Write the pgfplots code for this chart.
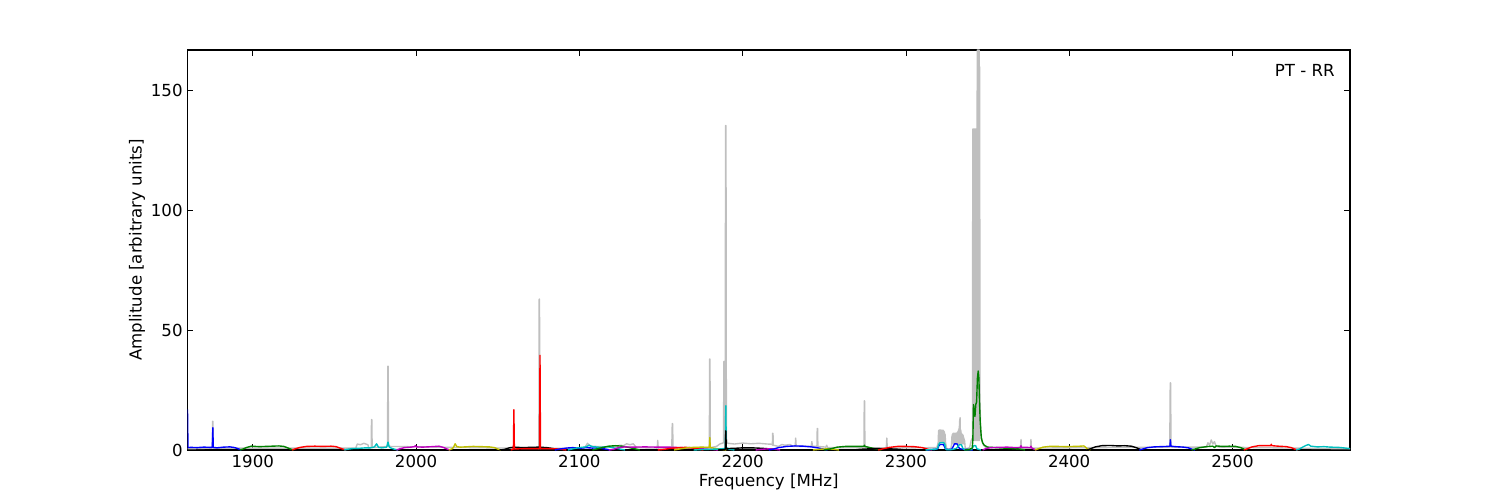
\documentclass[border=0pt]{standalone}
\usepackage{fontspec}
\setmainfont{DejaVu Sans}
\usepackage{pgfplots}
\pgfplotsset{compat=1.18}
\definecolor{mb}{rgb}{0,0,1}
\definecolor{mg}{rgb}{0,0.5,0}
\definecolor{mr}{rgb}{1,0,0}
\definecolor{mc}{rgb}{0,0.75,0.75}
\definecolor{mm}{rgb}{0.75,0,0.75}
\definecolor{my}{rgb}{0.75,0.75,0}
\definecolor{mk}{rgb}{0,0,0}
\definecolor{gr}{rgb}{0.75,0.75,0.75}
\begin{document}
\begin{tikzpicture}
\useasboundingbox (0,0) rectangle (15in,5in);
\begin{axis}[
  at={(1.875in,0.5in)}, anchor=south west,
  width=11.625in, height=4in, scale only axis,
  xmin=1860, xmax=2572, ymin=0, ymax=167,
  xtick={1900,2000,2100,2200,2300,2400,2500},
  ytick={0,50,100,150},
  minor tick num=0,
  tick align=inside, tick pos=both,
  major tick length=4pt,
  every tick/.style={black, line width=0.5pt},
  axis line style={line width=1pt},
  /pgf/number format/assume math mode=true,
  /pgf/number format/set thousands separator={},
  tick label style={font=\fontsize{12}{14}\selectfont},
  label style={font=\fontsize{12}{14}\selectfont},
  xlabel={Frequency [MHz]}, ylabel={Amplitude [arbitrary units]},
  xlabel style={at={(axis description cs:0.5,-0.079)}, anchor=center},
  ylabel style={at={(axis description cs:-0.0434,0.5)}, anchor=center},
  every axis plot/.append style={line width=1pt, line join=round, mark=none},
]
% gray full spectrum
\addplot[gr] coordinates {
(1860,0.5)(1875.2,0.8)(1875.4,12)(1875.6,12)(1875.8,0.8)
(1963,0.8)(1964,2.5)(1966,2.2)(1968,2.8)(1970.5,2.2)(1971,0.8)
(1972.5,1)(1972.7,12.7)(1972.9,12.7)(1973.1,1)
(1982.5,1.5)(1982.7,35)(1982.9,35)(1983.1,1.5)
(2075.2,0.6)(2075.4,63)(2075.6,63)(2075.8,0.6)
(2103,0.8)(2105,2.8)(2107,1.5)(2110,1.5)
(2120,1.2)(2125,2)(2127,1.8)(2129,2.6)(2131,2.2)(2133,2.6)(2135,1.0)
(2147.7,0.8)(2148,4)(2148.3,0.8)
(2156.6,1)(2156.9,11)(2157.1,11)(2157.4,1)
(2179.6,1)(2179.8,38)(2180.0,38)(2180.2,1)
(2184,1.5)(2186,2.5)(2188.3,3)(2188.5,37)(2188.7,37)(2188.9,4)(2189.3,5)(2189.55,135.5)(2189.8,135.5)(2190.05,5)(2190.5,3)
(2191,2.8)(2195,2.5)(2200,2.9)(2205,2.6)(2210,2.8)(2215,2.5)(2218,2.4)
(2218.2,2)(2218.4,7)(2218.6,7)(2218.8,2)
(2222,1.5)(2224,2.3)(2226,2)(2229,2.3)(2231,1.5)
(2232.2,1.5)(2232.5,5)(2232.8,1.5)
(2242,1.5)(2242.4,3.5)(2242.8,1.5)(2245.5,1.5)(2245.7,9)(2245.9,9)(2246.1,1.5)
(2251,1.2)(2251.5,2)(2252,1.0)
(2274.3,1)(2274.5,20.5)(2274.7,20.5)(2274.9,1)
(2288,0.8)(2288.3,5)(2288.6,0.8)
(2319,1)(2319.8,3.2)
(2320.0,8.0)(2320.1,3.2)(2320.2,8.3)(2320.3,3.2)(2320.4,8.3)(2320.5,3.2)(2320.6,8.3)(2320.7,3.2)(2320.8,8.3)(2320.9,3.2)
(2321.0,8.3)(2321.1,3.2)(2321.2,8.3)(2321.3,3.2)(2321.4,8.3)(2321.5,3.2)(2321.6,8.0)(2321.7,3.2)(2321.8,8.0)(2321.9,3.2)
(2322.0,8.3)(2322.1,3.2)(2322.2,8.3)(2322.3,3.2)(2322.4,8.0)(2322.5,3.2)(2322.6,8.0)(2322.7,3.2)(2322.8,8.3)(2322.9,3.2)
(2323.0,8.0)(2323.1,3.2)(2323.2,8.0)(2323.3,3.2)(2323.4,7.8)(2323.5,3.2)(2323.6,7.5)(2323.7,3.2)(2323.8,7.0)(2323.9,3.2)(2324.0,6.5)
(2324.3,3)(2325,0.5)
(2327.5,0.5)(2328,2.6)
(2328.1,5.5)(2328.2,2.6)(2328.3,6.0)(2328.4,2.6)(2328.5,6.5)(2328.6,2.6)(2328.7,6.8)(2328.8,2.6)(2328.9,7.0)(2329.0,2.6)
(2329.1,7.0)(2329.2,2.6)(2329.3,7.0)(2329.4,2.6)(2329.5,7.0)(2329.6,2.6)(2329.7,6.8)(2329.8,2.6)(2329.9,6.6)(2330.0,2.6)
(2330.1,7.0)(2330.2,2.6)(2330.3,7.0)(2330.4,2.6)(2330.5,7.0)(2330.6,2.6)(2330.7,7.0)(2330.8,2.6)(2330.9,6.8)(2331.0,2.6)
(2331.1,7.0)(2331.2,2.6)(2331.3,7.2)(2331.4,2.6)(2331.5,7.4)(2331.6,2.6)(2331.7,7.5)(2331.8,2.6)(2331.9,7.8)(2332.0,2.6)
(2332.1,8.0)(2332.2,2.6)(2332.3,8.5)(2332.4,2.6)(2332.5,9.0)(2332.6,2.6)(2332.7,10.0)(2332.8,2.6)(2332.9,12.0)(2333.0,12.5)(2333.2,13.5)(2333.35,2.6)
(2333.5,8.5)(2333.6,2.6)(2333.7,8.0)(2333.8,2.6)(2333.9,7.2)(2334.0,2.6)(2334.1,6.8)(2334.2,2.6)(2334.3,6.5)(2334.4,2.6)
(2334.5,6.5)(2334.6,2.6)(2334.7,6.5)(2334.8,2.6)(2334.9,6.2)(2335.0,2.6)(2335.1,6.0)(2335.2,2.6)(2335.3,5.5)(2335.4,2.6)
(2335.5,5.0)(2335.6,2.6)(2335.7,4.5)(2335.8,2.6)(2335.9,4.0)(2336.0,3.5)
(2336.3,1)(2337,0.5)
(2339,1)(2340,4)(2340.8,5)
(2340.95,134)(2341.05,4)(2341.15,134)(2341.25,4)(2341.35,134)(2341.45,4)(2341.55,134)(2341.65,4)(2341.75,134)(2341.85,4)
(2341.95,134)(2342.05,4)(2342.15,134)(2342.25,4)(2342.35,134)(2342.45,4)(2342.55,134)(2342.65,4)(2342.75,134)(2342.85,4)
(2342.95,134)(2343.05,4)(2343.15,134)(2343.25,4)(2343.35,134)(2343.45,4)(2343.55,150)(2343.65,4)
(2343.75,167)(2343.85,4)(2343.95,167)(2344.05,4)(2344.15,167)(2344.25,4)(2344.35,167)(2344.45,4)(2344.55,167)(2344.65,4)
(2344.75,167)(2344.85,4)(2344.95,167)(2345.05,4)(2345.15,160)
(2345.4,20)(2345.8,8)(2346.5,4)(2347.5,2)(2349,1)
(2370.2,0.8)(2370.5,4.4)(2370.8,0.8)
(2376.3,0.8)(2376.6,4.4)(2376.9,0.8)
(2461.6,1.2)(2461.9,28)(2462.1,28)(2462.4,1.2)
(2484,1.2)(2485,3)(2486,2)(2487,4.2)(2488,2.5)(2489,3.5)(2490,1.5)(2492,1.2)
(2572,0.5)
};
% bands
\addplot[mb] coordinates {(1860,17)(1860.3,1)(1862,1.1)(1866,1.0)(1870,1.2)(1874,1.1)(1875.2,1.1)(1875.5,9.3)(1875.8,1.1)(1878,0.9)(1882,1.2)(1886,1.3)(1889,1.0)(1891,0.5)(1893,0)};
\addplot[mg] coordinates {(1892,0)(1894,0.4)(1896,1.0)(1899,1.6)(1904,1.4)(1908,1.5)(1912,1.6)(1916,1.7)(1919,1.5)(1921,1.0)(1923,0.4)(1925,0)};
\addplot[mr] coordinates {(1924,0)(1926,0.5)(1929,1.1)(1933,1.5)(1938,1.6)(1943,1.5)(1948,1.6)(1951,1.4)(1953,0.9)(1955,0.4)(1957,0)};
\addplot[mc] coordinates {(1956,0)(1958,0.3)(1961,0.6)(1965,0.7)(1969,0.9)(1972,0.9)(1974.5,1.3)(1975.8,2.6)(1977,1.1)(1979,0.9)(1982,1.2)(1982.8,3.3)(1983.6,1.2)(1985,0.7)(1987,0.3)(1989,0)};
\addplot[mm] coordinates {(1988,0)(1990,0.5)(1993,1.0)(1997,1.2)(1999,1.4)(1999.6,1.8)(2000.3,1.3)(2004,1.2)(2010,1.4)(2014,1.6)(2017,1.0)(2019,0.4)(2021,0)};
\addplot[my] coordinates {(2020,0)(2022,0.5)(2023,1.2)(2023.9,2.6)(2025,1.4)(2027,1.2)(2030,1.3)(2035,1.5)(2040,1.4)(2045,1.3)(2048,1.0)(2050,0.4)(2052,0)};
\addplot[mk] coordinates {(2051,0)(2054,0.2)(2057,0.9)(2060,1.2)(2065,1.0)(2070,1.1)(2075,1.2)(2080,1.0)(2084,0.6)(2087,0.2)(2089,0)};
\addplot[mr] coordinates {(2058,0)(2059.6,0.4)(2059.9,16.8)(2060.2,0.4)(2063,0.5)(2068,0.6)(2073,0.6)(2075.6,0.6)(2075.9,39.5)(2076.2,0.6)(2080,0.6)(2085,0.5)(2089,0.3)(2092,0)};
\addplot[mb] coordinates {(2085,0)(2088,0.4)(2092,0.8)(2096,1.0)(2100,0.7)(2104,1.0)(2108,0.8)(2112,0.9)(2116,0.4)(2119,0)};
\addplot[mc] coordinates {(2093,0)(2096,0.5)(2100,1.0)(2104,1.3)(2106,2.0)(2108,1.4)(2113,1.1)(2117,1.4)(2121,0.9)(2125,0.4)(2128,0)};
\addplot[mg] coordinates {(2108,0)(2111,0.5)(2114,1.0)(2118,1.6)(2122,1.8)(2126,1.6)(2130,1.1)(2134,0.5)(2137,0)};
\addplot[mm] coordinates {(2118,0)(2121,0.3)(2124,1.0)(2128,1.3)(2133,1.2)(2140,1.3)(2148,1.2)(2155,1.2)(2162,1.0)(2170,0.8)(2177,0.4)(2182,0.2)(2185,0)};
\addplot[mr] coordinates {(2148,0)(2152,0.3)(2156,0.7)(2160,0.9)(2165,1.1)(2169,0.9)(2173,0.4)(2176,0)};
\addplot[my] coordinates {(2158,0)(2162,0.5)(2166,0.9)(2170,1.1)(2175,1.2)(2179.6,1.1)(2179.9,5.2)(2180.2,1.0)(2184,0.6)(2188,0.2)(2190,0)};
\addplot[mc] coordinates {(2170,0)(2175,0.2)(2180,0.3)(2185,0.4)(2188.8,0.6)(2189.4,0.9)(2189.7,18.5)(2190.0,1)(2192,0.3)(2195,0)};
\addplot[mk] coordinates {(2185,0)(2189.3,0.2)(2189.7,8)(2190.0,0.6)(2195,0.7)(2200,0.9)(2206,0.9)(2212,0.7)(2218,0.4)(2222,0)};
\addplot[mm] coordinates {(2208,0)(2212,0.3)(2216,0.5)(2220,0.3)(2223,0)};
\addplot[mb] coordinates {(2216,0)(2219,0.4)(2222,1.0)(2227,1.5)(2232,1.7)(2237,1.6)(2242,1.3)(2246,0.9)(2250,0.3)(2252,0)};
\addplot[my] coordinates {(2243,0)(2247,0.3)(2252,0.5)(2256,0.3)(2259,0)};
\addplot[mg] coordinates {(2250,0)(2254,0.5)(2258,1.2)(2263,1.5)(2268,1.5)(2273,1.5)(2274.3,1.6)(2274.6,2.0)(2274.9,1.5)(2278,1.0)(2282,0.4)(2285,0)};
\addplot[mk] coordinates {(2268,0)(2272,0.3)(2278,0.5)(2284,0.6)(2290,0.5)(2296,0.3)(2300,0)};
\addplot[mr] coordinates {(2283,0)(2286,0.5)(2290,1.1)(2295,1.5)(2300,1.5)(2305,1.4)(2310,1.0)(2313,0.4)(2316,0)};
\addplot[mb] coordinates {(2313,0)(2316,0.2)(2318,0.3)(2319.5,0.5)(2320.2,1.8)(2321,2.3)(2322.8,2.3)(2323.6,1.5)(2324.2,0.4)(2326,0.2)(2328,0.3)(2329,1.5)(2329.8,2.6)(2331.5,2.5)(2332.3,1.2)(2333,0.5)(2336,0.3)(2339,0.2)(2341,0)};
\addplot[mc] coordinates {(2312,0)(2315,0.2)(2318,0.3)(2319.4,0.6)(2320,2.2)(2320.8,3.0)(2323,3.1)(2323.8,2.5)(2324.3,0.5)(2325,0.1)(2327,0.1)(2329,0.3)(2331,0.7)(2332,1.6)(2332.8,2.2)(2334,2.2)(2334.8,0.8)(2336,0.1)(2340,0.1)(2340.8,0.8)(2341.5,1.8)(2342.7,1.8)(2343.5,0.5)(2346,0)};
\addplot[mg] coordinates {(2336,0)(2339,0.3)(2340.6,0.8)(2341.0,4)(2341.4,19)(2341.8,16)(2342.3,14)(2342.8,19)(2343.3,20)(2343.8,30)(2344.3,33)(2344.7,30)(2345.1,20)(2345.5,12)(2346.2,5)(2347,3)(2348,2)(2350,1.2)(2355,1.0)(2360,0.8)(2365,0.6)(2370,0.4)(2373,0)};
\addplot[mm] coordinates {(2347,0)(2349,0.6)(2352,1.0)(2357,1.1)(2362,1.2)(2367,1.0)(2370.3,1.1)(2370.5,1.8)(2370.7,1.1)(2374,1.1)(2376.4,1.0)(2376.6,1.6)(2376.8,1.0)(2378,0.5)(2380,0)};
\addplot[my] coordinates {(2379,0)(2381,0.5)(2384,1.2)(2388,1.5)(2393,1.5)(2398,1.4)(2403,1.5)(2407,1.6)(2409,1.7)(2410,1.2)(2411,0.5)(2413,0)};
\addplot[mk] coordinates {(2411,0)(2413,0.5)(2416,1.3)(2420,1.8)(2425,1.9)(2430,1.7)(2434,1.8)(2438,1.6)(2441,1.0)(2443,0.4)(2445,0)};
\addplot[mb] coordinates {(2443,0)(2445,0.4)(2448,1.0)(2452,1.3)(2456,1.4)(2460,1.5)(2461.7,1.6)(2462,4.3)(2462.3,1.6)(2465,1.4)(2470,1.2)(2473,0.9)(2475,0.4)(2477,0)};
\addplot[mg] coordinates {(2475,0)(2477,0.4)(2480,1.0)(2484,1.4)(2488,1.6)(2489,1.0)(2490,1.7)(2494,1.5)(2498,1.6)(2502,1.5)(2505,1.0)(2507,0.4)(2509,0)};
\addplot[mr] coordinates {(2507,0)(2509,0.5)(2512,1.3)(2516,1.8)(2520,1.8)(2523.5,1.8)(2523.8,2.4)(2524.1,1.8)(2528,1.6)(2533,1.4)(2536,1.0)(2538,0.4)(2540,0)};
\addplot[mc] coordinates {(2539,0)(2541,0.4)(2543,1.2)(2545,1.9)(2546.6,2.3)(2548,1.6)(2552,1.3)(2556,1.4)(2560,1.2)(2565,1.1)(2568,0.9)(2572,0.6)};
\node[anchor=east, inner sep=0pt, font=\fontsize{12}{14}\selectfont] at (rel axis cs:0.987,0.949) {PT - RR};
\end{axis}
\end{tikzpicture}
\end{document}
